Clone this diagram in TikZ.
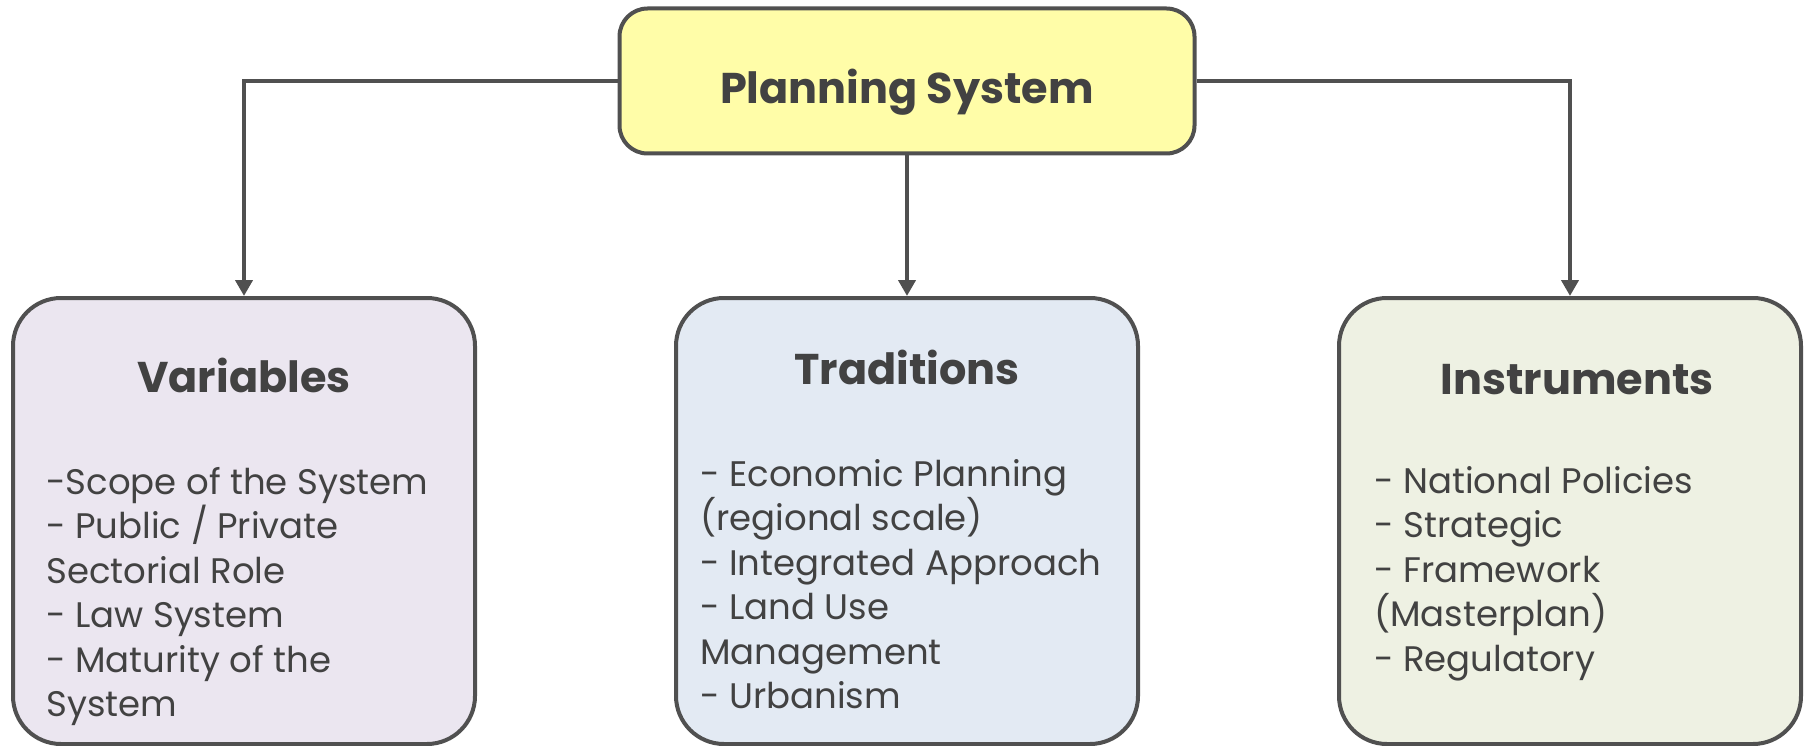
\documentclass[tikz,border=0pt]{standalone}
\usepackage{fontspec}
\setmainfont{Poppins}
\usetikzlibrary{arrows.meta}
\definecolor{edgec}{HTML}{505050}
\definecolor{txtc}{HTML}{424242}
\definecolor{topfill}{HTML}{FFFDA8}
\definecolor{varfill}{HTML}{EBE6F0}
\definecolor{tradfill}{HTML}{E3EAF3}
\definecolor{instfill}{HTML}{EEF1E3}
\begin{document}
\begin{tikzpicture}[x=1pt,y=-1pt,
  box/.style={draw=edgec, line width=4pt, rounded corners=48pt, inner sep=0pt,
    minimum width=462pt, minimum height=446pt},
  topbox/.style={draw=edgec, line width=4pt, rounded corners=28pt, inner sep=0pt,
    minimum width=575pt, minimum height=145pt, fill=topfill},
  title/.style={anchor=base, inner sep=0pt, text=txtc, font=\fontsize{43}{50}\selectfont\bfseries},
  body/.style={anchor=base west, inner sep=0pt, text=txtc, align=left,
    font=\fontsize{35.5}{44.5}\selectfont},
  conn/.style={draw=edgec, line width=4pt, -{Triangle[length=16pt,width=17pt]}}
]
\useasboundingbox (0,0) rectangle (1810,746);
\node[topbox] (top) at (907,81) {};
\node[box, fill=varfill] (var) at (244,521) {};
\node[box, fill=tradfill] (trad) at (907,521) {};
\node[box, fill=instfill] (inst) at (1570,521) {};

\node[title] (toptitle) at (907,104) {Planning System};
\node[title] (vartitle) at (244,392) {Variables};
\node[title] (tradtitle) at (907,384) {Traditions};
\node[title] (insttitle) at (1577,394) {Instruments};

\node[body] (vartext) at (46,716.5) {-Scope of the System\\- Public / Private\\Sectorial Role\\- Law System\\- Maturity of the\\System};
\node[body] (tradtext) at (700,708.5) {- Economic Planning\\(regional scale)\\- Integrated Approach\\- Land Use\\Management\\- Urbanism};
\node[body] (insttext) at (1374,671) {- National Policies\\- Strategic\\- Framework\\(Masterplan)\\- Regulatory};

\draw[conn] (top.west) -| (var.north);
\draw[conn] (top.south) -- (trad.north);
\draw[conn] (top.east) -| (inst.north);
\end{tikzpicture}
\end{document}
